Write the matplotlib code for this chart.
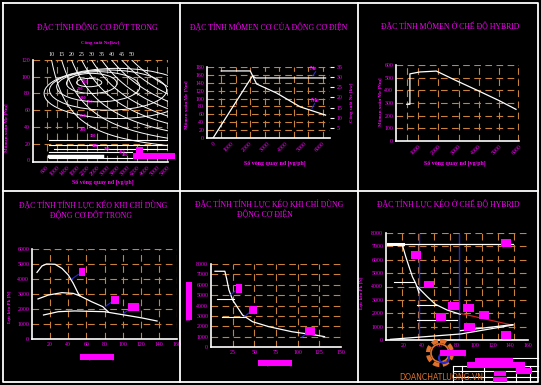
import numpy as np
import matplotlib
matplotlib.use('Agg')
import matplotlib.pyplot as plt
from matplotlib.patches import Ellipse, Circle

W, H = 541, 385
MAG = '#ff00ff'
ORG = '#c8823a'
BLU = '#2828d0'
RED = '#d02020'
plt.rcParams['font.family'] = ['Liberation Serif', 'DejaVu Serif']

# ---------------- data ----------------
# 1) engine map (ICE)
ice_power_kw = [10, 15, 20, 25, 30, 35, 40, 45, 50]
ice_rpm_ticks = [600, 1000, 1400, 1800, 2200, 2600, 3000, 3400, 3800, 4200, 4600, 5000, 5400]
ice_nm_ticks = [0, 20, 40, 60, 80, 100, 120]
bsfc_rpm = [2290, 2390, 2650, 3040, 3400]
bsfc_nm = [93, 92, 88, 84, 80]
bsfc_w_rpm = [1000, 2000, 3300, 4650, 5800]
bsfc_h_nm = [10, 24, 36, 48, 60]
throttle_nm = [24, 18, 14, 10, 2.5]
throttle_from = [700, 700, 900, 700, 700]
throttle_to = [5420, 5420, 5420, 4000, 5000]
bsfc_txt = ['220', '230', '240', '250', '260', '280', '300', '340', '380', '420', '480']
bsfc_txt_rpm = [2124, 1922, 2045, 2320, 2045, 2045, 2440, 2520, 3000, 3600, 3720]
bsfc_txt_nm = [93.6, 85, 74, 70, 53, 36, 29, 17, 13, 10, 6]

# 2) electric motor
em_rpm_ticks = [0, 1000, 2000, 3000, 4000, 5000, 6000]
em_nm_ticks = [0, 20, 40, 60, 80, 100, 120, 140, 160, 180]
em_kw_ticks = [5, 10, 15, 20, 25, 30, 35]
em_torque_rpm = [450, 2050, 2400, 3500, 4800, 6200]
em_torque_nm = [170, 170, 137, 114, 79, 58]
em_power_rpm = [0, 2170, 2350, 6200]
em_power_kw = [0, 30.6, 29.6, 29.6]

# 3) hybrid torque
hy_rpm_ticks = [1000, 2000, 3000, 4000, 5000, 6000]
hy_nm_ticks = [0, 100, 200, 300, 400, 500, 600]
hy_rpm = [430, 590, 590, 1080, 1900, 2800, 4000, 5000, 5850]
hy_nm = [290, 290, 530, 545, 552, 483, 395, 320, 250]

# 4) traction force, ICE only
v_ticks_160 = [20, 40, 60, 80, 100, 120, 140, 160]
f_ticks_6k = [0, 1000, 2000, 3000, 4000, 5000, 6000]
g1_v = [5.5, 11, 16, 25.5, 33, 40, 45.5, 51, 53]
g1_f = [4440, 4870, 5000, 4980, 4710, 4270, 3710, 3040, 2870]
g2_v = [6.6, 18, 33, 45.5, 53, 65.6, 78, 84]
g2_f = [2670, 2930, 3090, 3040, 2870, 2490, 2160, 1820]
g3_v = [12.7, 29, 47, 80, 102, 120, 138]
g3_f = [1600, 1820, 1870, 1820, 1600, 1420, 1200]
ice_tag_v = [55, 92, 112]
ice_tag_f = [4450, 2620, 2150]

# 5) traction force, motor only
v_ticks_150 = [25, 50, 75, 100, 125, 150]
f_ticks_8k = [0, 1000, 2000, 3000, 4000, 5000, 6000, 7000, 8000]
em_v = [4.6, 16, 18, 20.7, 25, 36.4, 47.9, 66.7, 93.5, 120, 131]
em_f = [7300, 7300, 6600, 5500, 4530, 3080, 2440, 1960, 1470, 1160, 1000]
em_level_f = [4630, 2890]
em_level_from = [6.6, 12.6]
em_level_to = [26, 40]
em_tag_v = [32, 48, 114]
em_tag_f = [5650, 3550, 1550]

# 6) traction force, hybrid
hy_max_v = [2, 143]
hy_max_f = [7150, 7150]
hy_g1_v = [18.7, 22.3, 26, 29.8, 33.5, 37.2]
hy_g1_f = [7040, 6220, 5470, 4720, 4230, 3530]
hy_g2_v = [35.4, 46.6, 55.9, 68.9, 83.8]
hy_g2_f = [3980, 3230, 2660, 2240, 1920]
hy_red_v = [83.8, 141.6]
hy_red_f = [1990, 1120]
hy_low_v = [5, 84, 143]
hy_low_f = [50, 450, 1120]
hy_low2_v = [84, 143]
hy_low2_f = [700, 1150]
hy_level_f = [4350, 2610, 1490]
hy_level_from = [9.3, 35.4, 35.4]
hy_level_to = [31.7, 57.8, 80]
hy_shift_v = [37.2, 82.7]
hy_tag_v = [34, 48, 76, 93, 110, 62, 94, 135, 135]
hy_tag_f = [6350, 4150, 2550, 2400, 1870, 1730, 980, 7250, 350]

# ---------------- helpers ----------------
fig = plt.figure(figsize=(W / 100, H / 100), dpi=100, facecolor='black')


def px_axes(x0, y0, x1, y1):
    ax = fig.add_axes([x0 / W, 1 - y1 / H, (x1 - x0) / W, (y1 - y0) / H])
    ax.set_facecolor('black')
    ax.spines[['top', 'right']].set_visible(False)
    ax.spines[['left', 'bottom']].set_color('white')
    ax.spines[['left', 'bottom']].set_linewidth(1.2)
    ax.tick_params(length=0, labelcolor=MAG, labelsize=4.2, pad=2)
    return ax


def cad_grid(ax, xs, ys):
    for x in xs:
        ax.axvline(x, color=ORG, lw=0.8, dashes=(6, 4), zorder=0)
    for y in ys:
        ax.axhline(y, color=ORG, lw=0.8, dashes=(6, 4), zorder=0)


def tag(ax, x, y, s, size=5, pad=0.6):
    ax.text(x, y, s, fontsize=size, color=MAG, ha='center', va='center',
            bbox=dict(fc=MAG, ec='none', pad=pad), clip_on=False)


def rot_ticks(ax, ticks):
    ax.set_xticks(ticks, [str(t) for t in ticks], rotation=45, ha='right',
                  rotation_mode='anchor')


# ---------------- 1) engine map ----------------
ax1 = px_axes(33, 60, 168, 162)
ax1.set_xlim(60, 5420)
ax1.set_ylim(-2, 120)
cad_grid(ax1, ice_rpm_ticks, ice_nm_ticks[1:])
rot_ticks(ax1, ice_rpm_ticks)
ax1.set_yticks(ice_nm_ticks)
n = np.linspace(400, 5420, 150)
for p in ice_power_kw:
    # constant power line M = 9550 P / n
    ax1.plot(n, 9550 * p / n, color='white', lw=0.7)
    ax1.text(9550 * p / 120, 126, str(p), color='#f0f0f0', fontsize=4.3,
             ha='center', va='center', clip_on=False)
for c, m, w, h in zip(bsfc_rpm, bsfc_nm, bsfc_w_rpm, bsfc_h_nm):
    ax1.add_patch(Ellipse((c, m), w, h, fill=False, ec='white', lw=0.7))
for m, a, b in zip(throttle_nm, throttle_from, throttle_to):
    ax1.plot([a, b], [m, m], color='white', lw=0.8)
ax1.plot([700, 2800], [5, 5], color='white', lw=2.5)
for s, x, y in zip(bsfc_txt, bsfc_txt_rpm, bsfc_txt_nm):
    ax1.text(x, y, s, color=MAG, fontsize=3.2, fontweight='bold', ha='center', va='center')
tag(ax1, 4300, 12, 'ge', 4)

# ---------------- 2) electric motor torque ----------------
ax2 = px_axes(207, 67, 330, 138)
ax2.set_xlim(-333, 6444)
ax2.set_ylim(0, 180)
cad_grid(ax2, [450, 1250, 2050, 2850, 3650, 4450, 5250, 6050], em_nm_ticks[1:])
rot_ticks(ax2, em_rpm_ticks)
ax2.set_yticks(em_nm_ticks)
ax2.plot(em_torque_rpm, em_torque_nm, color='white', lw=0.9)
ax2r = ax2.twinx()
ax2r.set_ylim(0, 35)
ax2r.spines[:].set_visible(False)
ax2r.set_yticks(em_kw_ticks)
ax2r.tick_params(axis='y', length=3, width=0.8, color='white', labelcolor=MAG,
                 labelsize=4.2, pad=1.5)
ax2r.plot(em_power_rpm, em_power_kw, color='white', lw=0.9)
ax2.text(5550, 176, 'Ne', color=MAG, fontsize=4.5, fontweight='bold', ha='center', va='center', clip_on=False)
ax2.plot([5650, 5500], [168, 158], color=BLU, lw=0.8)
ax2.text(5650, 95, 'Me', color=MAG, fontsize=4.5, fontweight='bold', ha='center', va='center')
ax2.plot([5600, 5450], [88, 75], color=BLU, lw=0.8)

# ---------------- 3) hybrid torque ----------------
ax3 = px_axes(396, 65, 519, 141)
ax3.set_xlim(-100, 5960)
ax3.set_ylim(0, 600)
cad_grid(ax3, [430, 1000, 2000, 3000, 4000, 5000, 5960], hy_nm_ticks[1:])
rot_ticks(ax3, hy_rpm_ticks)
ax3.set_yticks(hy_nm_ticks)
ax3.plot(hy_rpm, hy_nm, color='white', lw=0.9)

# ---------------- 4) traction ICE ----------------
ax4 = px_axes(32, 249, 177, 339)
ax4.set_xlim(0, 160)
ax4.set_ylim(0, 6000)
cad_grid(ax4, v_ticks_160, f_ticks_6k[1:])
ax4.set_xticks(v_ticks_160)
ax4.set_yticks(f_ticks_6k)
for v, f in [(g1_v, g1_f), (g2_v, g2_f), (g3_v, g3_f)]:
    ax4.plot(v, f, color='white', lw=0.9)
for x, y, s in zip(ice_tag_v, ice_tag_f, ['I', 'II', 'III']):
    ax4.plot([x - 11, x - 4], [y - 450, y - 150], color=BLU, lw=0.8)
    tag(ax4, x, y, s, 5, 1.2)

# ---------------- 5) traction motor ----------------
ax5 = px_axes(211, 264, 341, 347)
ax5.set_xlim(0, 150)
ax5.set_ylim(0, 8000)
cad_grid(ax5, v_ticks_150, f_ticks_8k[1:])
ax5.set_xticks(v_ticks_150)
ax5.set_yticks(f_ticks_8k)
ax5.plot(em_v, em_f, color='white', lw=0.9)
for f, a, b in zip(em_level_f, em_level_from, em_level_to):
    ax5.plot([a, b], [f, f], color='white', lw=0.8)
for x, y, s in zip(em_tag_v, em_tag_f, ['I', 'II', 'III']):
    ax5.plot([x - 9, x - 4], [y - 600, y - 250], color=BLU, lw=0.8)
    tag(ax5, x, y, s, 5, 1.2)

# ---------------- 6) traction hybrid ----------------
ax6 = px_axes(386, 233, 528, 340)
ax6.set_xlim(0, 160)
ax6.set_ylim(0, 8000)
cad_grid(ax6, [18, 36, 54, 72, 90, 108, 126, 144], f_ticks_8k[1:])
ax6.set_xticks(v_ticks_160)
ax6.set_yticks(f_ticks_8k)
for v in hy_shift_v:
    ax6.plot([v, v], [0, 7900], color=BLU, lw=1.0)
ax6.plot(hy_max_v, hy_max_f, color='white', lw=0.9)
ax6.plot([hy_max_v[0], hy_g1_v[0]], hy_max_f, color='white', lw=2.2)
ax6.plot(hy_g1_v, hy_g1_f, color='white', lw=0.9)
ax6.plot(hy_g2_v, hy_g2_f, color='white', lw=0.9)
ax6.plot(hy_red_v, hy_red_f, color=RED, lw=0.9)
ax6.plot(hy_low_v, hy_low_f, color='white', lw=0.9)
ax6.plot(hy_low2_v, hy_low2_f, color='white', lw=0.9)
for f, a, b in zip(hy_level_f, hy_level_from, hy_level_to):
    ax6.plot([a, b], [f, f], color='white', lw=0.8)
for x, y in zip(hy_tag_v, hy_tag_f):
    tag(ax6, x, y, 'Pk', 5, 1.0)

# ---------------- overlay: frames, titles, labels ----------------
ov = fig.add_axes([0, 0, 1, 1], zorder=10)
ov.set_xlim(0, W)
ov.set_ylim(H, 0)
ov.axis('off')
fr = dict(color='white', lw=1.3)
ov.plot([3, 538, 538, 3, 3], [3, 3, 382, 382, 3], **fr)
ov.plot([180, 180], [3, 382], **fr)
ov.plot([358, 358], [3, 382], **fr)
ov.plot([3, 538], [191, 191], **fr)

tt = dict(color=MAG, fontsize=5.6, ha='center', va='center')
ov.text(97, 28, 'ĐẶC TÍNH ĐỘNG CƠ ĐỐT TRONG', **tt)
ov.text(269, 28, 'ĐẶC TÍNH MÔMEN CƠ CỦA ĐỘNG CƠ ĐIỆN', **tt)
ov.text(450, 27, 'ĐẶC TÍNH MÔMEN Ở CHẾ ĐỘ HYBRID', **tt)
ov.text(93, 206, 'ĐẶC TÍNH TÍNH LỰC KÉO KHI CHỈ DÙNG', **tt)
ov.text(91, 216, 'ĐỘNG CƠ ĐỐT TRONG', **tt)
ov.text(269, 205, 'ĐẶC TÍNH TÍNH LỰC KÉO KHI CHỈ DÙNG', **tt)
ov.text(265, 215, 'ĐỘNG CƠ ĐIỆN', **tt)
ov.text(448, 205, 'ĐẶC TÍNH LỰC KÉO Ở CHẾ ĐỘ HYBRID', **tt)

lb = dict(color=MAG, fontsize=4.2, ha='center', va='center', fontweight='bold')
ov.text(100, 43, 'Công suất Ne[kw]', **dict(lb, fontsize=3.6))
ov.text(103, 183, 'Số vòng quay nđ [vg/ph]', **lb)
ov.text(7, 128, 'Mômen xoắn Me [Nm]', rotation=90, **dict(lb, fontsize=3.6))
ov.text(275, 164, 'Số vòng quay nđ [vg/ph]', **lb)
ov.text(187, 105, 'Mômen xoắn Me [Nm]', rotation=90, **dict(lb, fontsize=3.6))
ov.text(352, 102, 'Công suất Ne [kw]', rotation=90, **dict(lb, fontsize=3.6))
ov.text(455, 164, 'Số vòng quay nđ [vg/ph]', **lb)
ov.text(380, 102, 'Mômen xoắn Me [Nm]', rotation=90, **dict(lb, fontsize=3.6))
ov.text(10, 307, 'Lực kéo Pk [N]', rotation=90, **dict(lb, fontsize=3.6))
ov.text(97, 357, 'V  [ k m / h ]', color=MAG, fontsize=4.5, ha='center', va='center',
        bbox=dict(fc=MAG, ec='none', pad=0.3))
ov.text(189, 301, 'Lực kéo Pk [N]', rotation=90, color=MAG, fontsize=4.3, ha='center', va='center',
        bbox=dict(fc=MAG, ec='none', pad=0.4))
ov.text(275, 363, 'V  [ k m / h ]', color=MAG, fontsize=4.5, ha='center', va='center',
        bbox=dict(fc=MAG, ec='none', pad=0.3))
ov.text(362, 293, 'Lực kéo Pk [N]', rotation=90, **dict(lb, fontsize=3.6))
ov.text(154, 156, 'Ne max - Me max line', color=MAG, fontsize=3.2, ha='center', va='center',
        bbox=dict(fc=MAG, ec='none', pad=0.5))
ov.text(453, 353, 'V [km/h]', color=MAG, fontsize=5, ha='center', va='center',
        bbox=dict(fc=MAG, ec='none', pad=0.4))

# stamp
org2 = '#e0702a'
ov.add_patch(Circle((440, 353), 12, fill=False, ec=org2, lw=3, ls=(0, (1.5, 0.8))))
ov.add_patch(Circle((440, 353), 9, fill=False, ec=org2, lw=1.2))
ov.add_patch(Circle((444, 358), 5, fill=False, ec=BLU, lw=1.5))
ov.text(441, 378, 'DOANCHATLUONG.VN', color=org2, fontsize=5.6, ha='center', va='center',
        family='DejaVu Sans')

# title block
for y, a, b in [(358, 480, 538), (366, 453, 538), (371, 453, 538), (377, 453, 538)]:
    ov.plot([a, b], [y, y], color='white', lw=0.8)
for x in [453, 462, 484, 516, 530]:
    ov.plot([x, x], [366, 382], color='white', lw=0.8)
tb = dict(color=MAG, fontsize=3, ha='center', va='center')
ov.text(494, 360.5, 'ĐỒ ÁN TỐT NGHIỆP', bbox=dict(fc=MAG, ec='none', pad=0.4), **tb)
ov.text(496, 364.8, 'ĐỒ THỊ ĐẶC TÍNH XE HYBRID', bbox=dict(fc=MAG, ec='none', pad=0.4), **tb)
ov.text(500, 373.5, 'SVTH', bbox=dict(fc=MAG, ec='none', pad=0.6), **tb)
ov.text(524, 371, 'BẢN VẼ', bbox=dict(fc=MAG, ec='none', pad=0.6), **tb)
ov.text(500, 379.5, 'GVHD', bbox=dict(fc=MAG, ec='none', pad=0.6), **tb)

fig.savefig('out.png', dpi=100, facecolor='black')
